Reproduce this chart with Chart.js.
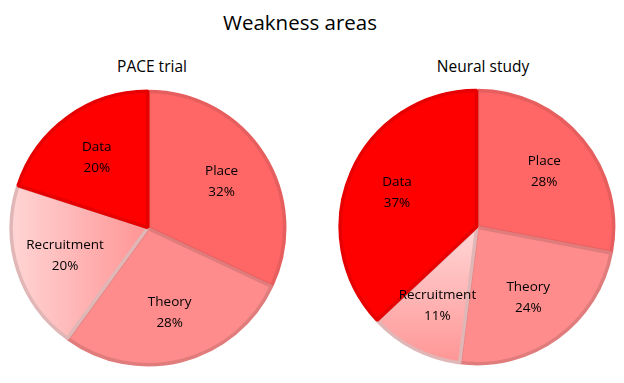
<!DOCTYPE html>
<html><head><meta charset="utf-8">
<script src="https://cdn.jsdelivr.net/npm/chart.js@4"></script>
<style>
body{margin:0;background:#fff;width:624px;height:383px;overflow:hidden;font-family:'Open Sans',sans-serif;position:relative}
#title{position:absolute;top:9px;left:0;width:600px;text-align:center;font-size:20.5px;color:#000;line-height:26px}
.sub{position:absolute;top:56px;font-size:15.5px;text-align:center;width:200px;color:#000;line-height:20px}
.box{position:absolute;width:278px;height:278px}
</style></head><body>
<div id="title">Weakness areas</div>
<div class="sub" style="left:52px">PACE trial</div>
<div class="sub" style="left:383px">Neural study</div>
<div class="box" style="left:9px;top:89px"><canvas id="c1"></canvas></div>
<div class="box" style="left:338px;top:88px"><canvas id="c2"></canvas></div>
<script>
const categories = ['Place', 'Theory', 'Recruitment', 'Data'];
const paceValues = [32, 28, 20, 20];
const neuralValues = [28, 24, 11, 37];

const fills = ['#FF6666', '#FF8C8C', null, '#FF0000'];
const borders = ['#E65E5E', '#E07C7C', '#E0B6B6', '#E60000'];
const LABEL_R = 0.64;

function makeFill(dir) {
  return (ctx) => {
    const i = ctx.dataIndex;
    if (i !== 2) return fills[i];
    const ch = ctx.chart, a = ch.chartArea;
    if (!a) return '#FFB0B0';
    const cx = (a.left + a.right) / 2, cy = (a.top + a.bottom) / 2;
    const g = dir === 'h'
      ? ch.ctx.createLinearGradient(a.left, 0, cx, 0)
      : ch.ctx.createLinearGradient(0, cy, 0, a.bottom);
    g.addColorStop(0, '#FFD6D6');
    g.addColorStop(1, '#FF9494');
    return g;
  };
}

const labelPlugin = {
  id: 'lbl',
  afterDatasetsDraw(chart) {
    const ctx = chart.ctx;
    const meta = chart.getDatasetMeta(0);
    const data = chart.data.datasets[0].data;
    const tot = data.reduce((a, b) => a + b, 0);
    ctx.save();
    ctx.font = '13.5px "Open Sans"';
    ctx.fillStyle = '#000';
    ctx.textAlign = 'center';
    ctx.textBaseline = 'middle';
    meta.data.forEach((arc, i) => {
      const p = arc.getProps(['x', 'y', 'startAngle', 'endAngle', 'outerRadius'], true);
      const m = (p.startAngle + p.endAngle) / 2;
      const r = p.outerRadius * LABEL_R;
      const x = p.x + Math.cos(m) * r, y = p.y + Math.sin(m) * r;
      ctx.fillText(chart.data.labels[i], x, y - 10);
      ctx.fillText(Math.round(data[i] / tot * 100) + '%', x, y + 11);
    });
    ctx.restore();
  }
};

function makePie(id, values, dir) {
  new Chart(document.getElementById(id), {
    type: 'pie',
    data: {
      labels: categories,
      datasets: [{
        data: values,
        backgroundColor: makeFill(dir),
        borderColor: borders,
        borderWidth: 3.5,
        offset: 2
      }]
    },
    options: {
      responsive: true,
      maintainAspectRatio: false,
      animation: false,
      layout: { padding: 0 },
      plugins: { legend: { display: false }, tooltip: { enabled: false } }
    },
    plugins: [labelPlugin]
  });
}

makePie('c1', paceValues, 'h');
makePie('c2', neuralValues, 'v');
</script>
</body></html>
